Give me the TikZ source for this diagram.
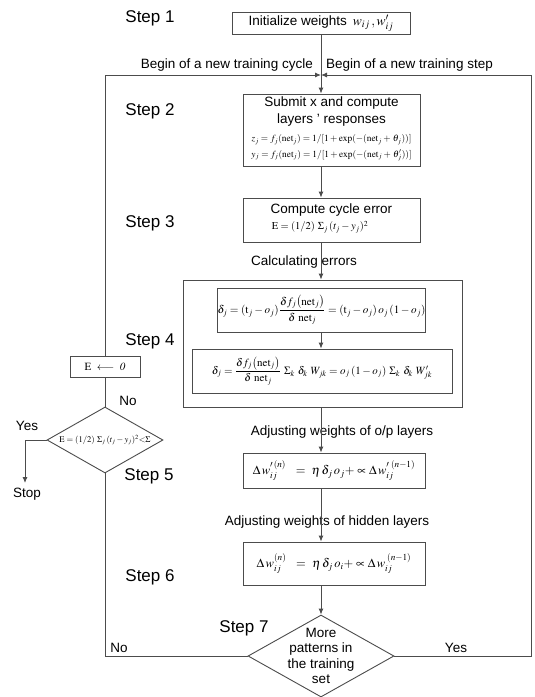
\documentclass[tikz,border=0pt]{standalone}
\usepackage{amsmath}
\usepackage{mathptmx}
\usepackage{fontspec}
\setmainfont{Liberation Sans}
\usetikzlibrary{arrows.meta,shapes.geometric}
\begin{document}
\begin{tikzpicture}[x=1pt,y=-1pt,
  ln/.style={draw=black!70, line width=0.9pt},
  arr/.style={ln, -{Latex[length=6pt,width=5pt]}},
  box/.style={draw=black!70, line width=0.9pt, rectangle, inner sep=0pt, align=center, font=\fontsize{13.5}{16}\selectfont},
  dia/.style={draw=black!70, line width=0.9pt, diamond, inner sep=0pt},
  steplbl/.style={font=\fontsize{17}{20}\selectfont, inner sep=0pt},
  lbl/.style={font=\fontsize{13.5}{16}\selectfont, inner sep=0pt}]
\useasboundingbox (0,0) rectangle (535,697);
\fill[white] (0,0) rectangle (535,697);

% boxes
\node[box, minimum width=178pt, minimum height=22pt] (s1) at (321,23) {Initialize weights \,$w_{ij}\,,w'_{ij}$};
\node[box, minimum width=177pt, minimum height=72pt] (s2) at (331.5,130) {};
\node[lbl] (s2a) at (331.5,103) {Submit x and compute};
\node[lbl] (s2b) at (331.5,120) {layers ' responses};
\node[inner sep=0pt, font=\fontsize{9.4}{11}\selectfont] (s2c) at (331.5,139.5) {$z_j = f_j(\mathrm{net}_j) = 1/[1+\exp(-(\mathrm{net}_j+\,\theta_j))]$};
\node[inner sep=0pt, font=\fontsize{9.4}{11}\selectfont] (s2d) at (331.5,155.5) {$y_j = f_j(\mathrm{net}_j) = 1/[1+\exp(-(\mathrm{net}_j+\,\theta^{\prime}_{j}))]$};

\node[box, minimum width=177pt, minimum height=44pt] (s3) at (331.5,220) {};
\node[lbl] (s3a) at (331.5,210) {Compute cycle error};
\node[inner sep=0pt, font=\fontsize{10.5}{12}\selectfont] (s3b) at (320,227) {$\mathrm{E} = (1/2)\ \Sigma_j\,(t_j - y_j)^2$};

\node[box, minimum width=279pt, minimum height=127pt] (o4) at (322.5,343.5) {};
\node[box, minimum width=207pt, minimum height=44pt, font=\fontsize{11.2}{13}\selectfont] (in1) at (321.5,310)
  {$\delta_j = (\mathrm{t}_j - o_j)\dfrac{\delta f_j\big(\mathrm{net}_j\big)}{\delta\ \mathrm{net}_j} = (\mathrm{t}_j - o_j)\,o_j\,(1-o_j)$};
\node[box, minimum width=260pt, minimum height=44pt, font=\fontsize{11}{13}\selectfont] (in2) at (322,371)
  {$\delta_j = \dfrac{\delta f_j\big(\mathrm{net}_j\big)}{\delta\ \mathrm{net}_j}\ \Sigma_k\ \delta_k\ W_{jk} = o_j\,(1-o_j)\ \Sigma_k\ \delta_k\ W^{\prime}_{jk}$};

\node[box, minimum width=182pt, minimum height=35pt, font=\fontsize{12.5}{14}\selectfont] (s5) at (334,470.5)
  {$\Delta\,w'^{\,(n)}_{ij}\ \ =\ \eta\,\delta_j\,o_j + \propto \Delta\,w'^{\;(n-1)}_{ij}$};
\node[box, minimum width=182pt, minimum height=43pt, font=\fontsize{12.5}{14}\selectfont] (s6) at (334,563.5)
  {$\Delta\,w^{(n)}_{ij}\ \ =\ \eta\,\delta_j\,o_i + \propto \Delta\,w^{\;(n-1)}_{ij}$};

\node[box, minimum width=70pt, minimum height=21pt, font=\fontsize{11}{13}\selectfont] (eb) at (105,366.5) {$\mathrm{E}\ \boldsymbol{\longleftarrow}\ \mathit{0}$};

% diamonds
\node[dia, minimum width=116pt, minimum height=66pt] (dl) at (105,440) {};
\node[inner sep=0pt, font=\fontsize{8.6}{9}\selectfont] (dlt) at (105,440) {$\mathrm{E} = (1/2)\ \Sigma_j\,(t_j - y_j)^2 {<} \Sigma$};
\node[dia, minimum width=146pt, minimum height=82pt] (d7) at (321,656) {};
\node[align=center, inner sep=0pt, font=\fontsize{13.5}{15.5}\selectfont] (d7t) at (321,656) {More\\patterns in\\the training\\set};

% step labels
\node[steplbl] (st1) at (150,18) {Step 1};
\node[steplbl] (st2) at (150,111) {Step 2};
\node[steplbl] (st3) at (150,223) {Step 3};
\node[steplbl] (st4) at (150,341) {Step 4};
\node[steplbl] (st5) at (149,476) {Step 5};
\node[steplbl] (st6) at (150,577) {Step 6};
\node[steplbl] (st7) at (244,628) {Step 7};

% other labels
\node[lbl, anchor=east] (bc) at (313,65) {Begin of a new training cycle};
\node[lbl, anchor=west] (bs) at (326,65) {Begin of a new training step};
\node[lbl] (ce) at (304,262) {Calculating errors};
\node[lbl] (ao) at (342,432) {Adjusting weights of o/p layers};
\node[lbl] (ah) at (327,522) {Adjusting weights of hidden layers};
\node[lbl] (no1) at (128,401) {No};
\node[lbl] (yes1) at (27,426) {Yes};
\node[lbl] (stop) at (27,494) {Stop};
\node[lbl] (no2) at (119,648) {No};
\node[lbl] (yes2) at (456,648) {Yes};

% connectors
\coordinate (j) at (321,75);
\coordinate (rt) at (531,75);
\coordinate (rb) at (531,656);
\coordinate (lt) at (105,75);
\coordinate (lb) at (105,656);
\coordinate (yc) at (25,440);
\coordinate (ye) at (25,483);
\draw[ln] (s1.south -| j) -- (j);
\draw[arr] (j) -- (j |- s2.north);
\draw[arr] (j |- s2.south) -- (j |- s3.north);
\draw[arr] (j |- s3.south) -- (j |- o4.north);
\draw[arr] (j |- in1.south) -- (j |- in2.north);
\draw[arr] (j |- o4.south) -- (j |- s5.north);
\draw[arr] (j |- s5.south) -- (j |- s6.north);
\draw[arr] (j |- s6.south) -- (d7.north);
\draw[arr] (d7.east) -- (rb) -- (rt) -- (j);
\draw[ln] (d7.west) -- (lb) -- (dl.south);
\draw[ln] (dl.north) -- (eb.south);
\draw[arr] (eb.north) -- (lt) -- (j);
\draw[arr] (dl.west) -- (yc) -- (ye);
\end{tikzpicture}
\end{document}
